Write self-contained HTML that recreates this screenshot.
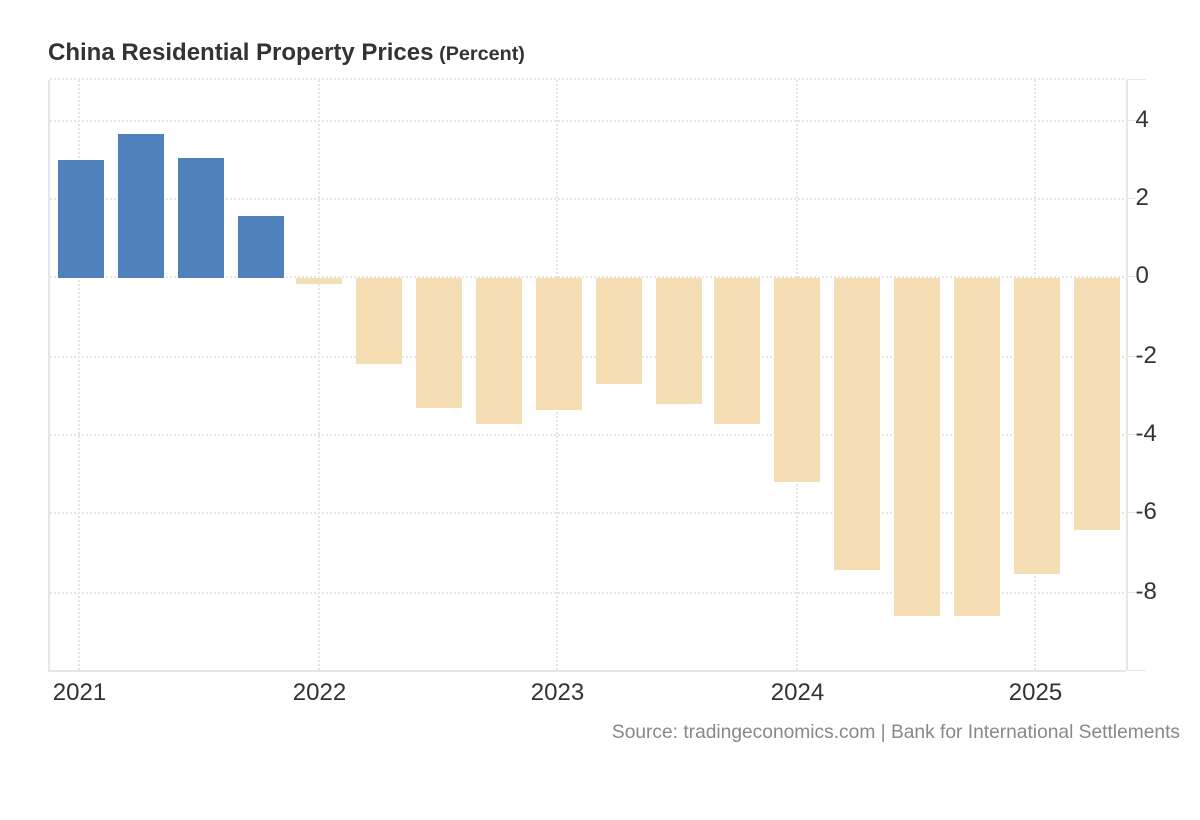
<!DOCTYPE html>
<html lang="en">
<head>
<meta charset="utf-8">
<title>China Residential Property Prices</title>
<style>
html,body{margin:0;padding:0;background:#fff;width:1200px;height:820px;overflow:hidden}
svg{display:block;font-family:"Liberation Sans",Arial,sans-serif}
</style>
</head>
<body>
<svg id="chart" width="1200" height="820" viewBox="0 0 1200 820" xmlns="http://www.w3.org/2000/svg">
  <text x="48" y="60" font-size="24" font-weight="bold" fill="#333333">China Residential Property Prices <tspan font-size="19.8" dx="-1">(Percent)</tspan></text>
  <g id="grid" shape-rendering="crispEdges"></g>
  <g id="axes" shape-rendering="crispEdges"></g>
  <g id="bars"></g>
  <g id="labels"></g>
  <text x="1180" y="738" text-anchor="end" font-size="19.2" fill="#888888">Source: tradingeconomics.com | Bank for International Settlements</text>
</svg>
<script>
const quarters = ['2021Q1','2021Q2','2021Q3','2021Q4','2022Q1','2022Q2','2022Q3','2022Q4','2023Q1','2023Q2','2023Q3','2023Q4','2024Q1','2024Q2','2024Q3','2024Q4','2025Q1','2025Q2'];
const values = [3.0,3.66,3.05,1.58,-0.15,-2.19,-3.3,-3.71,-3.36,-2.7,-3.2,-3.71,-5.19,-7.42,-8.6,-8.6,-7.53,-6.41];
const yTicks = [4,2,0,-2,-4,-6,-8];
const xTicks = ['2021Q1','2022Q1','2023Q1','2024Q1','2025Q1'];
const xTickLabels = ['2021','2022','2023','2024','2025'];

const NS = 'http://www.w3.org/2000/svg';
const GRID = '#e6e6e6';
const POS = '#4f81bd';
const NEG = '#f5deb3';
const TEXT = '#333333';

function xScale(i) { return 79.5 + 59.72 * i; }
function barLeft(i) { return 2 * Math.round((58 + 59.72 * i) / 2); }
function yScale(v) { return 278.3 - 39.33 * v; }
function snapEven(p) { return 2 * Math.round(p / 2); }
function make(tag, parent, attrs) {
  const el = document.createElementNS(NS, tag);
  for (const k in attrs) el.setAttribute(k, attrs[k]);
  parent.appendChild(el);
  return el;
}

const grid = document.getElementById('grid');
const axes = document.getElementById('axes');
const bars = document.getElementById('bars');
const labels = document.getElementById('labels');
const dotted = {stroke: GRID, 'stroke-width': 2, 'stroke-dasharray': '2 2'};

// Top border (dotted)
const topLine = make('line', grid, Object.assign({x1: 50, x2: 1126, y1: 79, y2: 79}, dotted));



yTicks.forEach(function (t) {
  const y = 2 * Math.floor((yScale(t) - 0.9) / 2) + 1;
  const line = make('line', grid, Object.assign({x1: 50, x2: 1126, y1: y, y2: y}, dotted));
  
  
  const tick = make('line', axes, {x1: 1128, x2: 1136, y1: y - 0.5, y2: y - 0.5, stroke: GRID, 'stroke-width': 1});
  
  
  const label = make('text', labels, {x: 1135.5, y: y + 6, 'font-size': 24, fill: TEXT});
  label.textContent = String(t);
  
  
});

xTicks.forEach(function (q, k) {
  const x = 2 * Math.floor(xScale(quarters.indexOf(q)) / 2) + 1;
  const line = make('line', grid, Object.assign({x1: x, x2: x, y1: 80, y2: 670}, dotted));
  
  
  const label = make('text', labels, {x: x + 0.5, y: 700, 'text-anchor': 'middle', 'font-size': 24, fill: TEXT});
  label.textContent = xTickLabels[k];
  
  
});

values.forEach(function (v, i) {
  const y0 = snapEven(yScale(0));
  const yv = snapEven(yScale(v));
  const rect = make('rect', bars, {
    x: barLeft(i),
    y: Math.min(y0, yv),
    width: 46,
    height: Math.abs(yv - y0),
    fill: v >= 0 ? POS : NEG
  });
  
  
});

const leftAxis = make('rect', axes, {x: 48, y: 80, width: 2, height: 592, fill: GRID});


const rightAxis = make('rect', axes, {x: 1126, y: 79, width: 2, height: 592, fill: GRID});


const bottomAxis = make('rect', axes, {x: 48, y: 670, width: 1078, height: 2, fill: GRID});


const topTick = make('rect', axes, {x: 1126, y: 79, width: 20, height: 1, fill: GRID});


const bottomTick = make('rect', axes, {x: 1126, y: 670, width: 20, height: 1, fill: GRID});


</script>
</body>
</html>
